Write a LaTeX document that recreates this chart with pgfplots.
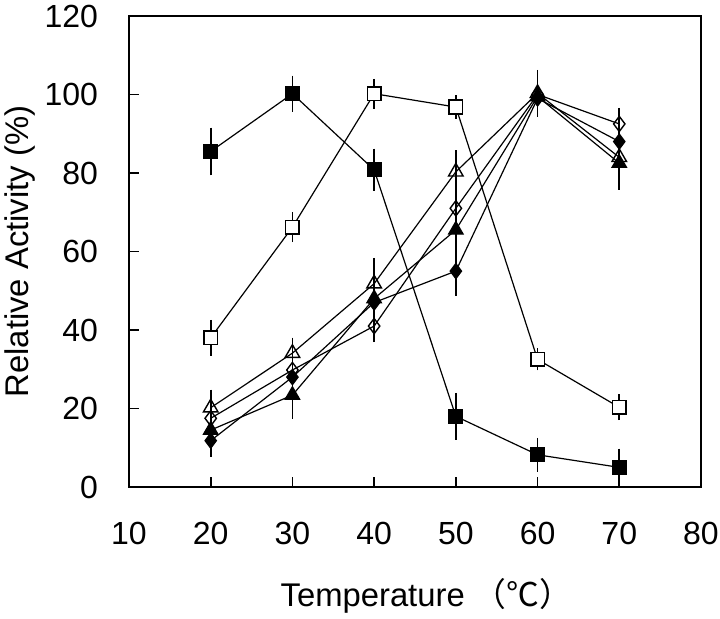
\documentclass[border=0pt]{standalone}
\usepackage{pgfplots}
\pgfplotsset{compat=1.18}
\usepackage{pgfplotstable}
\usepackage{fontspec}
\setmainfont{Liberation Sans}
\newfontfamily\cjk{Noto Sans CJK SC}

\pgfplotstableread{
x y e
20 85.5 4.3
30 100.2 2.8
40 80.8 3.6
50 18.0 4.2
60 8.2 2.5
70 5.0 3.0
}\fsq
\pgfplotstableread{
x y e
20 38.0 2.8
30 66.2 2.0
40 100.2 2.0
50 96.8 1.2
60 32.5 1.0
70 20.3 1.5
}\osq
\pgfplotstableread{
x y e
20 20.2 2.8
30 34.1 2.2
40 51.8 4.8
50 80.3 3.7
60 100.3 4.2
70 84.0 2.0
}\otri
\pgfplotstableread{
x y e
20 17.5 2.0
30 29.8 2.0
40 41.0 2.3
50 71.0 2.0
60 100.0 3.5
70 92.5 2.3
}\odia
\pgfplotstableread{
x y e
20 11.8 2.3
30 28.0 2.5
40 47.0 2.5
50 55.0 4.5
60 99.0 2.0
70 88.0 2.0
}\fdia
\pgfplotstableread{
x y e
20 14.5 2.0
30 23.4 4.2
40 48.0 3.0
50 65.5 3.5
60 99.5 2.5
70 82.5 5.0
}\ftri

\begin{document}
\begin{tikzpicture}
\useasboundingbox (-64.5pt,-66pt) rectangle (295.5pt,243.5pt);
\begin{axis}[
  at={(0,0)}, anchor=south west,
  scale only axis, width=286pt, height=235.5pt,
  xmin=10, xmax=80, ymin=0, ymax=120,
  xtick={10,20,...,80}, ytick={0,20,...,120},
  xtick pos=bottom, ytick pos=left, tick align=inside,
  major tick length=5pt,
  axis line style={line width=1pt},
  tick style={line width=0.8pt, black},
  /pgf/number format/assume math mode=true,
  tick label style={font=\fontsize{16}{19}\selectfont},
  xticklabel style={yshift=-14pt},
  yticklabel style={xshift=-12pt},
  xlabel={Temperature {\cjk （℃）}},
  ylabel={Relative Activity (\%)},
  label style={font=\fontsize{16.4}{19}\selectfont},
  xlabel style={at={(axis description cs:0.52,-0.231)}, anchor=center},
  ylabel style={at={(axis description cs:-0.19,0.5)}, anchor=center},
  every axis plot/.append style={black, line width=0.6pt,
    error bars/y dir=both, error bars/y explicit,
    error bars/error mark options={mark size=3.5pt, line width=0.8pt, black},
    error bars/error bar style={line width=0.8pt, black}},
]
\addplot[mark=diamond, mark size=3.8pt, mark options={fill=white, line width=0.7pt}]
  table[x=x, y=y, y error=e]{\odia};
\addplot[mark=diamond*, mark size=3.8pt, mark options={fill=black}]
  table[x=x, y=y, y error=e]{\fdia};
\addplot[mark=triangle*, mark size=4.2pt, mark options={fill=black}]
  table[x=x, y=y, y error=e]{\ftri};
\addplot[mark=triangle, mark size=4.2pt, mark options={fill=white, line width=0.7pt}]
  table[x=x, y=y, y error=e]{\otri};
\addplot[mark=square*, mark size=3.4pt, mark options={fill=white, line width=0.8pt}]
  table[x=x, y=y, y error=e]{\osq};
\addplot[mark=square*, mark size=3.4pt, mark options={fill=black}]
  table[x=x, y=y, y error=e]{\fsq};
\end{axis}
\end{tikzpicture}
\end{document}
